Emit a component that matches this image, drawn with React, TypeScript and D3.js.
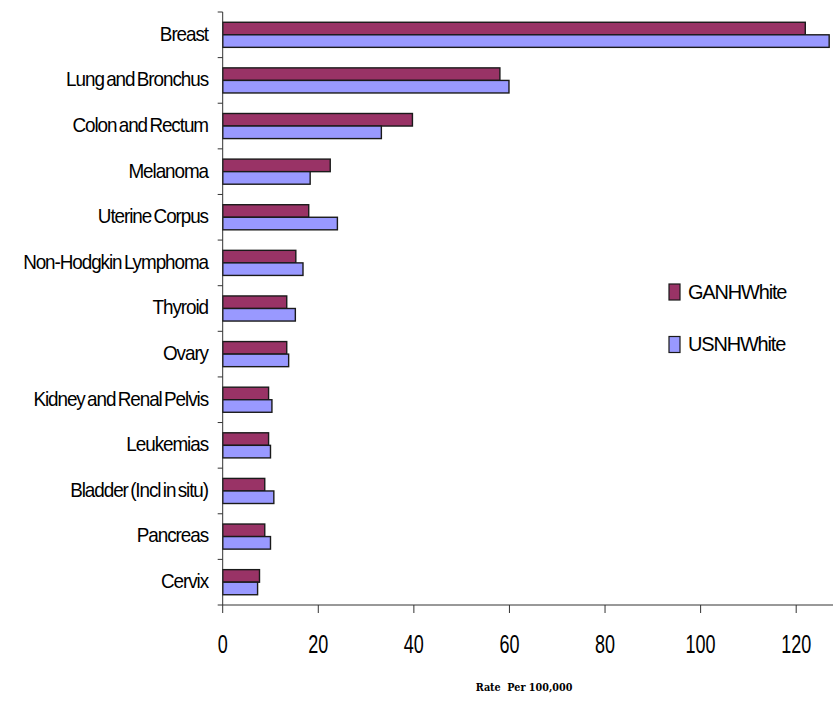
import React from "react";
import * as d3 from "d3";

const categories = [
  "Breast",
  "Lung and Bronchus",
  "Colon and Rectum",
  "Melanoma",
  "Uterine Corpus",
  "Non-Hodgkin Lymphoma",
  "Thyroid",
  "Ovary",
  "Kidney and Renal Pelvis",
  "Leukemias",
  "Bladder (Incl in situ)",
  "Pancreas",
  "Cervix",
];
const gaValues = [121.9, 58.0, 39.7, 22.5, 18.0, 15.3, 13.4, 13.4, 9.6, 9.6, 8.8, 8.8, 7.7];
const usValues = [126.9, 59.9, 33.2, 18.3, 24.0, 16.8, 15.2, 13.8, 10.3, 10.0, 10.7, 10.0, 7.3];
const seriesNames = ["GANHWhite", "USNHWhite"];
const seriesColors = ["#993366", "#9999FF"];
const xTicks = [0, 20, 40, 60, 80, 100, 120];
const xTitle = "Rate  Per 100,000";

const W = 833;
const H = 702;
const left = 222.7;
const right = 833;
const top = 12;
const bottom = 605;

export default function App() {
  const x = d3.scaleLinear().domain([0, 127.7]).range([left, right]);
  const y = d3
    .scaleBand<string>()
    .domain(categories)
    .range([top, bottom])
    .paddingInner(0.45)
    .paddingOuter(0.225);
  const inner = d3.scaleBand<string>().domain(seriesNames).range([0, y.bandwidth()]);
  const step = (bottom - top) / categories.length;
  const boundaries = d3.range(categories.length + 1).map((i) => top + i * step);
  const series = [gaValues, usValues];
  const font = "'Liberation Sans', Arial, sans-serif";

  return (
    <svg
      width={W}
      height={H}
      style={{ position: "absolute", left: 0, top: 0, background: "#fff" }}
    >
      {categories.map((c, i) => (
        <g key={c}>
          {series.map((vals, s) => (
            <rect
              key={s}
              x={x(0)}
              y={(y(c) as number) + (inner(seriesNames[s]) as number)}
              width={x(vals[i]) - x(0)}
              height={inner.bandwidth()}
              fill={seriesColors[s]}
              stroke="#1a1a1a"
              strokeWidth={1.4}
            />
          ))}
        </g>
      ))}
      <line x1={left} x2={left} y1={top} y2={bottom} stroke="#333" strokeWidth={1} />
      {boundaries.map((b, i) => (
        <line key={i} x1={left - 5} x2={left} y1={b} y2={b} stroke="#333" strokeWidth={1} />
      ))}
      {categories.map((c) => (
        <text
          key={c}
          transform={`translate(208,${(y(c) as number) + y.bandwidth() / 2 - 1.5}) scale(0.9,1)`}
          textAnchor="end"
          dominantBaseline="central"
          fontFamily={font}
          fontSize={21}
          letterSpacing={-1.2}
          wordSpacing={-2}
          fill="#000"
        >
          {c}
        </text>
      ))}
      <line x1={left} x2={right} y1={bottom} y2={bottom} stroke="#333" strokeWidth={1} />
      {xTicks.map((t) => (
        <g key={t}>
          <line x1={x(t)} x2={x(t)} y1={bottom} y2={bottom + 8} stroke="#333" strokeWidth={1} />
          <text
            transform={`translate(${x(t)},${bottom + 39}) scale(0.72,1)`}
            textAnchor="middle"
            dominantBaseline="central"
            fontFamily={font}
            fontSize={25}
            fill="#000"
          >
            {t}
          </text>
        </g>
      ))}
      <text
        x={524}
        y={691}
        textAnchor="middle"
        fontFamily="'DejaVu Serif Condensed', 'DejaVu Serif', serif"
        fontWeight="bold"
        fontSize={10.7}
        style={{ whiteSpace: "pre" }}
        fill="#000"
      >
        {xTitle}
      </text>
      {seriesNames.map((n, i) => (
        <g key={n}>
          <rect
            x={669}
            y={284 + i * 52.5}
            width={11}
            height={16}
            fill={seriesColors[i]}
            stroke="#1a1a1a"
            strokeWidth={1.2}
          />
          <text
            transform={`translate(688,${291 + i * 52.5}) scale(0.95,1)`}
            dominantBaseline="central"
            fontFamily={font}
            fontSize={21}
            letterSpacing={-1.2}
            fill="#000"
          >
            {n}
          </text>
        </g>
      ))}
    </svg>
  );
}
